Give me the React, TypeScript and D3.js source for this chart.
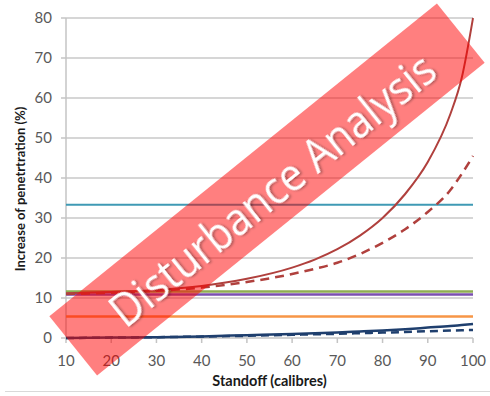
import * as d3 from "d3";
import React, { useEffect, useRef } from "react";

// standoff values (calibres)
const standoff = [10, 20, 30, 40, 50, 60, 65, 70, 75, 80, 85, 90, 95, 97.5, 100];
const redSolid = [11.2, 11.5, 12, 13, 14.8, 17.6, 19.6, 22.2, 25.6, 30, 36, 44, 56, 65, 80];
const redDashed = [11, 11.3, 11.8, 12.6, 14, 16, 17.3, 18.8, 21, 23.8, 27.2, 31.5, 37, 41, 45.5];
const blueSolid = [0, 0.1, 0.2, 0.4, 0.7, 1.0, 1.2, 1.4, 1.65, 1.9, 2.2, 2.6, 3.0, 3.25, 3.5];
const blueDashed = [0, 0.1, 0.2, 0.35, 0.55, 0.8, 0.92, 1.05, 1.2, 1.35, 1.5, 1.7, 1.85, 1.95, 2.0];
const tealFlat = 33.3;
const greenFlat = 11.6;
const purpleFlat = 10.9;
const lavenderFlat = 10.6;
const orangeFlat = 5.4;

const xTicks = [10, 20, 30, 40, 50, 60, 70, 80, 90, 100];
const yTicks = [0, 10, 20, 30, 40, 50, 60, 70, 80];

const W = 490,
  H = 396;
const FONT = "Lato, 'Open Sans', sans-serif";

export default function App() {
  const ref = useRef<SVGSVGElement>(null);

  useEffect(() => {
    const svg = d3.select(ref.current);
    svg.selectAll("*").remove();

    const x = d3.scaleLinear().domain([10, 100]).range([66, 473]);
    const y = d3.scaleLinear().domain([0, 80]).range([338, 18]);

    svg.append("rect").attr("width", W).attr("height", H).attr("fill", "#fff");

    // gridlines
    svg
      .selectAll(".grid")
      .data(yTicks.filter((t) => t > 0))
      .enter()
      .append("line")
      .attr("x1", x(10))
      .attr("x2", x(100))
      .attr("y1", (d) => y(d))
      .attr("y2", (d) => y(d))
      .attr("stroke", "#c9c9c9")
      .attr("stroke-width", 1.5);

    // y axis
    svg
      .append("line")
      .attr("x1", x(10))
      .attr("x2", x(10))
      .attr("y1", y(80))
      .attr("y2", y(0))
      .attr("stroke", "#c4c4c4")
      .attr("stroke-width", 1.5);
    yTicks.forEach((t) => {
      svg
        .append("line")
        .attr("x1", x(10) - 5)
        .attr("x2", x(10))
        .attr("y1", y(t))
        .attr("y2", y(t))
        .attr("stroke", "#c4c4c4")
        .attr("stroke-width", 1.5);
      svg
        .append("text")
        .attr("x", 52)
        .attr("y", y(t) + 5)
        .attr("text-anchor", "end")
        .attr("font-family", FONT)
        .attr("font-size", 15)
        .attr("fill", "#595959")
        .text(t);
    });

    // x axis
    svg
      .append("line")
      .attr("x1", x(10))
      .attr("x2", x(100))
      .attr("y1", y(0))
      .attr("y2", y(0))
      .attr("stroke", "#c4c4c4")
      .attr("stroke-width", 1.5);
    xTicks.forEach((t) => {
      svg
        .append("line")
        .attr("x1", x(t))
        .attr("x2", x(t))
        .attr("y1", y(0))
        .attr("y2", y(0) + 5)
        .attr("stroke", "#c4c4c4")
        .attr("stroke-width", 1.5);
      svg
        .append("text")
        .attr("x", x(t))
        .attr("y", 366)
        .attr("text-anchor", "middle")
        .attr("font-family", FONT)
        .attr("font-size", 15)
        .attr("fill", "#595959")
        .text(t);
    });

    // axis titles
    svg
      .append("text")
      .attr("x", (x(10) + x(100)) / 2)
      .attr("y", 386)
      .attr("text-anchor", "middle")
      .attr("font-family", FONT)
      .attr("font-size", 14.5)
      .attr("font-weight", "bold")
      .attr("fill", "#1a1a1a")
      .text("Standoff (calibres)");
    svg
      .append("text")
      .attr("transform", "translate(25,189) rotate(-90)")
      .attr("text-anchor", "middle")
      .attr("font-family", FONT)
      .attr("font-size", 13)
      .attr("font-weight", "bold")
      .attr("fill", "#1a1a1a")
      .text("Increase of penetrtration (%)");

    // bottom border
    svg
      .append("line")
      .attr("x1", 5)
      .attr("x2", W)
      .attr("y1", 391.5)
      .attr("y2", 391.5)
      .attr("stroke", "#d9d9d9")
      .attr("stroke-width", 1);

    const line = d3
      .line<number>()
      .x((d, i) => x(standoff[i]))
      .y((d) => y(d))
      .curve(d3.curveMonotoneX);

    const flat = (v: number) => standoff.map(() => v);

    const series = [
      { v: flat(orangeFlat), c: "#f79646", w: 2.5, dash: null },
      { v: flat(lavenderFlat), c: "#ffffff", w: 1.5, dash: "6,5" },
      { v: flat(purpleFlat), c: "#7b4fb0", w: 2.5, dash: null },
      { v: flat(greenFlat), c: "#8fae52", w: 2.5, dash: null },
      { v: flat(tealFlat), c: "#3f9ab5", w: 2, dash: null },
      { v: blueDashed, c: "#1f3f6e", w: 2.5, dash: "8,5" },
      { v: blueSolid, c: "#1f3f6e", w: 2.5, dash: null },
      { v: redDashed, c: "#b0403d", w: 2.5, dash: "9,6" },
      { v: redSolid, c: "#b0403d", w: 2, dash: null },
    ];

    series.forEach((s) => {
      svg
        .append("path")
        .datum(s.v)
        .attr("d", line)
        .attr("fill", "none")
        .attr("stroke", s.c)
        .attr("stroke-width", s.w)
        .attr("stroke-dasharray", s.dash);
    });

    // banner
    const defs = svg.append("defs");
    const f = defs.append("filter").attr("id", "shadow").attr("x", "-10%").attr("y", "-30%").attr("width", "120%").attr("height", "160%");
    f.append("feDropShadow")
      .attr("dx", 1.5)
      .attr("dy", 1.5)
      .attr("stdDeviation", 1)
      .attr("flood-color", "#000")
      .attr("flood-opacity", 0.35);

    const g = svg.append("g").attr("transform", "translate(267,189.5) rotate(-38.9)");
    g.append("rect")
      .attr("x", -249)
      .attr("y", -38)
      .attr("width", 498)
      .attr("height", 76)
      .attr("fill", "#ff0000")
      .attr("fill-opacity", 0.5);
    g.append("text")
      .attr("x", 4)
      .attr("y", 2)
      .attr("text-anchor", "middle")
      .attr("dominant-baseline", "central")
      .attr("font-family", "'Open Sans', Lato, sans-serif")
      .attr("font-size", 46)
      .attr("fill", "#ffffff")
      .attr("textLength", 404)
      .attr("lengthAdjust", "spacingAndGlyphs")
      .attr("filter", "url(#shadow)")
      .text("Disturbance Analysis");
  }, []);

  return (
    <svg
      ref={ref}
      width={W}
      height={H}
      style={{ position: "absolute", left: 0, top: 0 }}
    ></svg>
  );
}
